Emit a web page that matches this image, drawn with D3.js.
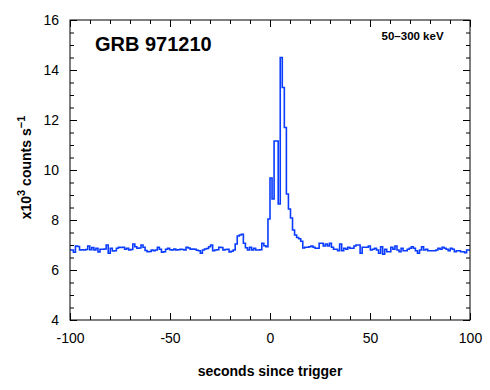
<!DOCTYPE html>
<html>
<head>
<meta charset="utf-8">
<script src="https://cdn.jsdelivr.net/npm/d3@7.9.0/dist/d3.min.js"></script>
<style>
  body { margin: 0; background: #fff; }
  text { font-family: "Liberation Sans", Arial, Helvetica, sans-serif; }
</style>
</head>
<body>
<svg id="chart" width="490" height="390"></svg>
<script>
// 1.024 s bins, first bin starts at -100.352 s (bins aligned on the trigger)
const binWidth = 1.024;
const firstBinStart = -100.352;

// count rate, x10^3 counts/s, 50-300 keV
const counts = [
  6.80, 6.80, 6.71, 6.96, 6.94, 6.80, 6.81, 6.80, 6.82, 6.96,
  6.81, 6.90, 6.80, 6.87, 6.72, 6.83, 6.83, 6.84, 7.00, 6.67,
  6.87, 6.76, 6.77, 6.87, 6.91, 6.90, 6.91, 6.83, 6.87, 6.80,
  6.82, 7.04, 6.93, 6.87, 6.88, 7.00, 6.91, 6.78, 6.73, 6.74,
  6.80, 6.77, 6.80, 6.91, 6.83, 6.71, 6.73, 6.83, 6.87, 6.81,
  6.80, 6.84, 6.80, 6.81, 6.83, 6.82, 6.80, 6.91, 6.88, 6.83,
  6.84, 6.83, 6.79, 6.77, 6.67, 6.80, 6.84, 6.86, 6.93, 7.00,
  6.77, 6.80, 6.81, 6.91, 6.90, 6.80, 6.82, 6.83, 6.72, 6.75,
  6.80, 7.04, 7.36, 7.40, 7.43, 7.07, 6.89, 6.80, 6.91, 6.80,
  6.87, 6.80, 6.80, 6.81, 7.07, 6.97, 6.93, 8.04,
  9.68, 8.84, 11.16, 11.16, 8.64, 14.50, 13.30, 11.70, 9.04, 8.44,
  8.08, 7.60, 7.40, 7.30, 7.25, 7.15,
  6.88, 6.91, 6.91, 6.93, 6.96, 6.91, 6.87, 6.87, 7.07, 7.07,
  6.96, 7.04, 6.96, 7.07, 6.91, 6.83, 6.83, 6.77, 7.04, 6.77,
  6.87, 6.83, 6.91, 6.87, 6.87, 6.96, 7.00, 7.00, 6.67, 6.91,
  6.91, 6.91, 6.96, 6.80, 6.83, 6.87, 6.80, 6.67, 6.93, 6.63,
  6.83, 6.73, 6.73, 6.91, 6.83, 6.96, 6.80, 6.73, 6.87, 6.77,
  6.77, 6.83, 6.87, 6.93, 6.87, 6.77, 6.67, 6.80, 6.93, 6.80,
  6.83, 6.77, 6.77, 6.77, 6.77, 6.80, 6.87, 6.83, 6.91, 6.87,
  6.83, 6.77, 6.87, 6.83, 6.73, 6.77, 6.77, 6.73, 6.73, 6.69,
  6.80, 6.80
];

const xMajorTicks = [-100, -50, 0, 50, 100];
const yMajorTicks = [4, 6, 8, 10, 12, 14, 16];

const svg = d3.select("#chart"),
      margin = {top: 20, right: 20, bottom: 70, left: 70},
      width = +svg.attr("width") - margin.left - margin.right,
      height = +svg.attr("height") - margin.top - margin.bottom;

const g = svg.append("g").attr("transform", `translate(${margin.left},${margin.top})`);

const x = d3.scaleLinear().domain([-100, 100]).range([0, width]);
const y = d3.scaleLinear().domain([4, 16]).range([height, 0]);

const xMinor = d3.range(-100, 101, 10).filter(d => !xMajorTicks.includes(d));
const yMinor = d3.range(4, 16.01, 0.5).filter(d => !yMajorTicks.includes(d));

// step histogram
const pts = counts.map((c, i) => ({t: firstBinStart + i * binWidth, v: c}));
pts.push({t: firstBinStart + counts.length * binWidth, v: counts[counts.length - 1]});

g.append("clipPath").attr("id", "clip")
  .append("rect").attr("width", width).attr("height", height);

const line = d3.line().curve(d3.curveStepAfter).x(d => x(d.t)).y(d => y(d.v));

g.append("path").datum(pts)
  .attr("clip-path", "url(#clip)")
  .attr("fill", "none")
  .attr("stroke", "#0a3cff")
  .attr("stroke-width", 1.6)
  .attr("stroke-linejoin", "miter")
  .attr("d", line);

// axes, ticks pointing inward on all four sides
function ticksOnly(sel) { sel.select(".domain").remove(); sel.selectAll("line").attr("stroke", "#000"); }
const plain = d => String(d);   // hyphen minus, as in the original

g.append("g").attr("transform", `translate(0,${height})`)
  .call(d3.axisBottom(x).tickValues(xMajorTicks).tickSize(-7).tickPadding(13).tickFormat(plain))
  .call(ticksOnly)
  .call(a => a.selectAll("text").attr("font-size", 14).attr("fill", "#000"));
g.append("g").attr("transform", `translate(0,${height})`)
  .call(d3.axisBottom(x).tickValues(xMinor).tickSize(-4).tickFormat(""))
  .call(ticksOnly);
g.append("g")
  .call(d3.axisTop(x).tickValues(xMajorTicks).tickSize(-7).tickFormat(""))
  .call(ticksOnly);
g.append("g")
  .call(d3.axisTop(x).tickValues(xMinor).tickSize(-4).tickFormat(""))
  .call(ticksOnly);

g.append("g")
  .call(d3.axisLeft(y).tickValues(yMajorTicks).tickSize(-7).tickPadding(11).tickFormat(plain))
  .call(ticksOnly)
  .call(a => a.selectAll("text").attr("font-size", 14).attr("fill", "#000"));
g.append("g")
  .call(d3.axisLeft(y).tickValues(yMinor).tickSize(-4).tickFormat(""))
  .call(ticksOnly);
g.append("g").attr("transform", `translate(${width},0)`)
  .call(d3.axisRight(y).tickValues(yMajorTicks).tickSize(-7).tickFormat(""))
  .call(ticksOnly);
g.append("g").attr("transform", `translate(${width},0)`)
  .call(d3.axisRight(y).tickValues(yMinor).tickSize(-4).tickFormat(""))
  .call(ticksOnly);

g.append("rect")
  .attr("width", width).attr("height", height)
  .attr("fill", "none").attr("stroke", "#000").attr("stroke-width", 1);

// labels
g.append("text")
  .attr("x", x(-87.5)).attr("y", y(14.75))
  .attr("font-size", 20).attr("font-weight", "bold")
  .text("GRB 971210");

g.append("text")
  .attr("x", x(86.8)).attr("y", y(15.2))
  .attr("text-anchor", "end")
  .attr("font-size", 11.5).attr("font-weight", "bold")
  .text("50–300 keV");

g.append("text")
  .attr("x", width / 2).attr("y", height + 56)
  .attr("text-anchor", "middle")
  .attr("font-size", 14).attr("font-weight", "bold")
  .text("seconds since trigger");

const yl = g.append("text")
  .attr("transform", "rotate(-90)")
  .attr("x", -(y(10.1))).attr("y", -39)
  .attr("text-anchor", "middle")
  .attr("font-size", 14).attr("font-weight", "bold");
yl.append("tspan").text("x10");
yl.append("tspan").attr("dy", -6).attr("font-size", 11).text("3");
yl.append("tspan").attr("dy", 6).text(" counts s");
yl.append("tspan").attr("dy", -6).attr("font-size", 11).text("−1");
</script>
</body>
</html>
